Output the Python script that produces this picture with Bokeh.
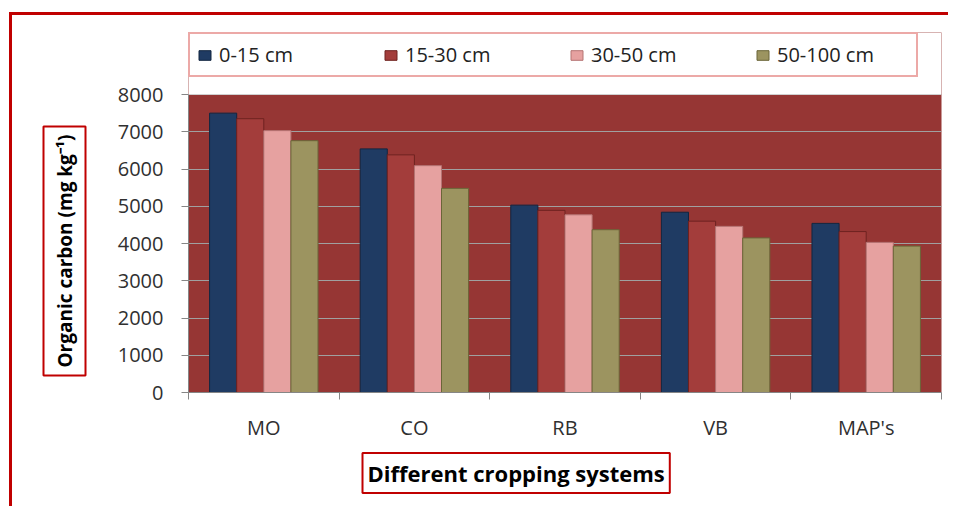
from bokeh.plotting import figure
from bokeh.models import (ColumnDataSource, FactorRange, Range1d, LinearAxis, CategoricalAxis,
                          FixedTicker, Legend, LegendItem, Title, CustomJSTickFormatter,
                          BoxAnnotation)
from bokeh.transform import dodge
from bokeh.embed import file_html
from bokeh.resources import INLINE

# ---- data ----
systems = ["MO", "CO", "RB", "VB", "MAP's"]
depths = ["0-15 cm", "15-30 cm", "30-50 cm", "50-100 cm"]
oc_0_15 = [7500, 6540, 5030, 4840, 4540]
oc_15_30 = [7350, 6380, 4890, 4600, 4320]
oc_30_50 = [7030, 6090, 4770, 4460, 4030]
oc_50_100 = [6760, 5480, 4370, 4150, 3930]
y_ticks = [0, 1000, 2000, 3000, 4000, 5000, 6000, 7000, 8000]
Y_TOP = 8000

series_cols = ["d0", "d1", "d2", "d3"]
source = ColumnDataSource(data=dict(system=systems, d0=oc_0_15, d1=oc_15_30,
                                    d2=oc_30_50, d3=oc_50_100))

# ---- styles / layout ----
FONT = "Open Sans"
fills = ["#1F3B63", "#A33D3B", "#E6A1A0", "#9C9460"]
edges = ["#122640", "#6E2220", "#B57473", "#6B6538"]
offsets = [-0.27, -0.09, 0.09, 0.27]
BAR_W = 0.18
RED = "#C00000"
CANVAS_H = 494
BORDER_TOP = 17
BORDER_BOTTOM = 117
PLOT_H = 298                                   # pixel height of the 0..8000 plot area
FRAME_H = CANVAS_H - BORDER_TOP - BORDER_BOTTOM  # frame also holds the legend strip
Y_END = Y_TOP * FRAME_H / PLOT_H

p = figure(x_range=FactorRange(*systems), y_range=Range1d(0, Y_END),
           width=939, height=CANVAS_H,
           min_border_left=163, min_border_right=10,
           min_border_top=BORDER_TOP, min_border_bottom=BORDER_BOTTOM,
           x_axis_location=None, y_axis_location="left",
           output_backend="svg", toolbar_location=None, tools="")
p.title.visible = False
# outer red frame of the whole figure (top and left edges)
p.styles = {"margin-left": "9px", "margin-top": "12px",
            "border-top": "3px solid #C00000", "border-left": "3px solid #C00000"}

p.background_fill_color = "#963634"
p.border_fill_color = "white"
p.outline_line_color = None
p.xgrid.grid_line_color = None
p.ygrid.grid_line_color = "#A0A0A0"
p.ygrid.grid_line_width = 1

renderers = []
for col, off, fc, lc in zip(series_cols, offsets, fills, edges):
    r = p.vbar(x=dodge("system", off, range=p.x_range), top=col, width=BAR_W,
               source=source, fill_color=fc, line_color=lc, line_width=1)
    renderers.append(r)

# white strip above the 0..8000 plot area (holds the legend)
cover = BoxAnnotation(bottom=Y_TOP, fill_color="white", fill_alpha=1, line_color=None)
p.add_layout(cover)

# y axis
yax = p.yaxis[0]
yax.ticker = FixedTicker(ticks=y_ticks)
yax.bounds = (0, Y_TOP)
yax.major_tick_out = 7
yax.major_tick_in = 0
yax.minor_tick_line_color = None
yax.axis_line_color = "#868686"
yax.major_tick_line_color = "#868686"
yax.major_label_standoff = 18
yax.major_label_text_font = FONT
yax.major_label_text_font_size = "20px"
yax.major_label_text_color = "#303030"

# bottom: tick-only axis at category boundaries (synthetic coords 0..5), then category labels
tick_axis = LinearAxis(ticker=FixedTicker(ticks=list(range(len(systems) + 1))),
                       formatter=CustomJSTickFormatter(code="return ''"),
                       major_tick_out=7, major_tick_in=0, minor_tick_line_color=None,
                       axis_line_color="#868686", major_tick_line_color="#868686",
                       major_label_text_font_size="1px", major_label_standoff=0)
cat_axis = CategoricalAxis(major_tick_line_color=None, axis_line_color=None,
                           major_label_standoff=8, major_label_text_font=FONT,
                           major_label_text_font_size="20px",
                           major_label_text_color="#303030")
p.add_layout(tick_axis, "below")
p.add_layout(cat_axis, "below")

# axis titles with red boxes
ytitle = Title(text="Organic carbon (mg kg\u207b\u00b9)", align="left", offset=17,
               standoff=58, text_font=FONT, text_font_size="19px", text_font_style="bold",
               text_color="black", border_line_color=RED, border_line_width=2,
               background_fill_color="white", padding=8)
p.add_layout(ytitle, "left")

xtitle = Title(text="Different cropping systems", align="left", offset=174,
               standoff=15, text_font=FONT, text_font_size="22px", text_font_style="bold",
               text_color="black", border_line_color=RED, border_line_width=2,
               background_fill_color="white", padding=5)
p.add_layout(xtitle, "below")

# legend inside the white strip at the top of the frame
items = [LegendItem(label=d, renderers=[r]) for d, r in zip(depths, renderers)]
legend = Legend(items=items, orientation="horizontal", location=(0, FRAME_H - 45),
                margin=0, padding=7, spacing=32, label_width=132, label_standoff=7,
                glyph_width=15, glyph_height=12,
                border_line_color="#D9534F", border_line_width=2,
                background_fill_color="white", background_fill_alpha=1,
                label_text_font=FONT, label_text_font_size="20px",
                label_text_color="#222222")
p.add_layout(legend, "center")

open("out.html", "w").write(file_html(p, INLINE))
